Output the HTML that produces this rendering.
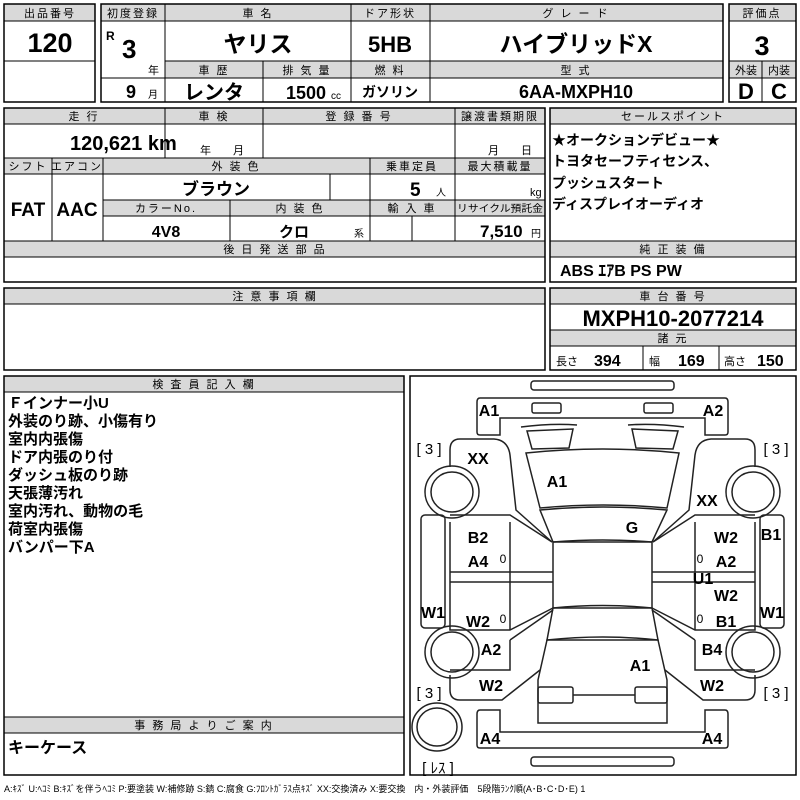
<!DOCTYPE html>
<html><head><meta charset="utf-8"><style>
html,body{margin:0;padding:0;background:#fff}
svg{display:block}
text{font-family:"Liberation Sans","Noto Sans CJK JP",sans-serif;fill:#000}
.h{font-size:11px;text-anchor:middle;letter-spacing:2px}
.b{font-weight:bold}
.c{text-anchor:middle}
.g{fill:#d9d9d9;stroke:#000;stroke-width:1}
.r{fill:none;stroke:#000;stroke-width:1.5}
.l{stroke:#000;stroke-width:1}
.d{fill:none;stroke:#222;stroke-width:1.5}
.lab{font-size:16px;font-weight:bold;text-anchor:middle}
</style></head><body>
<svg width="800" height="800" viewBox="0 0 800 800" xmlns="http://www.w3.org/2000/svg">
<rect class="g" x="4" y="4" width="91" height="17"/>
<text class="h" x="50" y="17">出品番号</text>
<rect class="r" x="4" y="4" width="91" height="98"/>
<line class="l" x1="4" y1="61" x2="95" y2="61"/>
<text class="b c" x="50" y="52" font-size="27">120</text>
<rect class="g" x="101" y="4" width="622" height="17"/>
<rect class="g" x="165" y="61" width="558" height="17"/>
<rect class="r" x="101" y="4" width="622" height="98"/>
<line class="l" x1="165" y1="4" x2="165" y2="102"/>
<line class="l" x1="351" y1="4" x2="351" y2="102"/>
<line class="l" x1="430" y1="4" x2="430" y2="102"/>
<line class="l" x1="263" y1="61" x2="263" y2="102"/>
<line class="l" x1="101" y1="78" x2="165" y2="78"/>
<text class="h" x="133" y="17" letter-spacing="0">初度登録</text>
<text class="h" x="258" y="17">車 名</text>
<text class="h" x="390" y="17" letter-spacing="0">ドア形状</text>
<text class="h" x="576" y="17">グ レ ー ド</text>
<text class="h" x="214" y="74">車 歴</text>
<text class="h" x="307" y="74">排 気 量</text>
<text class="h" x="390" y="74">燃 料</text>
<text class="h" x="576" y="74">型 式</text>
<text class="b" x="106" y="40" font-size="12">R</text>
<text class="b" x="122" y="58" font-size="26">3</text>
<text x="148" y="74" font-size="11">年</text>
<text class="b" x="126" y="98" font-size="18">9</text>
<text x="148" y="98" font-size="10">月</text>
<text class="b c" x="258" y="52" font-size="23">ヤリス</text>
<text class="b c" x="390" y="52" font-size="22">5HB</text>
<text class="b c" x="576" y="52" font-size="23">ハイブリッドX</text>
<text class="b c" x="214" y="99" font-size="20">レンタ</text>
<text class="b" x="286" y="99" font-size="18">1500</text>
<text x="331" y="99" font-size="10">cc</text>
<text class="b c" x="390" y="97" font-size="14">ガソリン</text>
<text class="b c" x="576" y="98" font-size="18">6AA-MXPH10</text>
<rect class="g" x="729" y="4" width="67" height="17"/>
<rect class="g" x="729" y="61" width="67" height="17"/>
<rect class="r" x="729" y="4" width="67" height="98"/>
<line class="l" x1="762" y1="61" x2="762" y2="102"/>
<text class="h" x="762" y="17" letter-spacing="0">評価点</text>
<text class="b c" x="762" y="55" font-size="27">3</text>
<text class="c" x="746" y="74" font-size="11">外装</text>
<text class="c" x="779" y="74" font-size="11">内装</text>
<text class="b c" x="746" y="99" font-size="22">D</text>
<text class="b c" x="779" y="99" font-size="22">C</text>
<rect class="g" x="4" y="108" width="541" height="16"/>
<rect class="g" x="4" y="158" width="541" height="16"/>
<rect class="g" x="103" y="200" width="442" height="16"/>
<rect class="g" x="4" y="241" width="541" height="16"/>
<rect class="r" x="4" y="108" width="541" height="174"/>
<line class="l" x1="165" y1="108" x2="165" y2="158"/>
<line class="l" x1="263" y1="108" x2="263" y2="158"/>
<line class="l" x1="455" y1="108" x2="455" y2="241"/>
<line class="l" x1="52" y1="158" x2="52" y2="241"/>
<line class="l" x1="103" y1="158" x2="103" y2="241"/>
<line class="l" x1="370" y1="158" x2="370" y2="241"/>
<line class="l" x1="330" y1="174" x2="330" y2="200"/>
<line class="l" x1="230" y1="200" x2="230" y2="241"/>
<line class="l" x1="412" y1="216" x2="412" y2="241"/>
<text class="h" x="84" y="120">走 行</text>
<text class="h" x="214" y="120">車 検</text>
<text class="h" x="359" y="120">登 録 番 号</text>
<text class="h" x="500" y="120" letter-spacing="0">譲渡書類期限</text>
<text class="b" x="70" y="150" font-size="20">120,621 km</text>
<text x="200" y="154" font-size="11">年　　月</text>
<text x="488" y="154" font-size="11">月　　日</text>
<text class="h" x="28" y="170" letter-spacing="0">シフト</text>
<text class="h" x="77" y="170" letter-spacing="0">エアコン</text>
<text class="h" x="236" y="170">外 装 色</text>
<text class="h" x="412" y="170" letter-spacing="0">乗車定員</text>
<text class="h" x="500" y="170" letter-spacing="0">最大積載量</text>
<text class="b c" x="28" y="216" font-size="19">FAT</text>
<text class="b c" x="77" y="216" font-size="19">AAC</text>
<text class="b c" x="216" y="195" font-size="17">ブラウン</text>
<text class="b" x="410" y="196" font-size="19">5</text>
<text x="436" y="196" font-size="10">人</text>
<text x="530" y="196" font-size="11">kg</text>
<text class="h" x="166" y="212" letter-spacing="3">カラーNo.</text>
<text class="h" x="300" y="212">内 装 色</text>
<text class="h" x="412" y="212">輸 入 車</text>
<text x="457" y="212" font-size="10" textLength="86" lengthAdjust="spacingAndGlyphs">リサイクル預託金</text>
<text class="b c" x="166" y="237" font-size="16">4V8</text>
<text class="b c" x="294" y="237" font-size="15">クロ</text>
<text x="354" y="237" font-size="10">系</text>
<text class="b" x="480" y="237" font-size="17">7,510</text>
<text x="531" y="237" font-size="10">円</text>
<text class="h" x="275" y="253">後 日 発 送 部 品</text>
<rect class="g" x="550" y="108" width="246" height="16"/>
<rect class="g" x="550" y="241" width="246" height="16"/>
<rect class="r" x="550" y="108" width="246" height="174"/>
<text class="h" x="673" y="120" letter-spacing="5">セールスポイント</text>
<text class="b" x="552" y="145" font-size="14">★オークションデビュー★</text>
<text class="b" x="552" y="166" font-size="14">トヨタセーフティセンス、</text>
<text class="b" x="552" y="188" font-size="14">プッシュスタート</text>
<text class="b" x="552" y="209" font-size="14">ディスプレイオーディオ</text>
<text class="h" x="673" y="253">純 正 装 備</text>
<text class="b" x="560" y="276" font-size="16">ABS ｴｱB PS PW</text>
<rect class="g" x="4" y="288" width="541" height="16"/>
<rect class="r" x="4" y="288" width="541" height="82"/>
<text class="h" x="275" y="300">注 意 事 項 欄</text>
<rect class="g" x="550" y="288" width="246" height="16"/>
<rect class="g" x="550" y="330" width="246" height="16"/>
<rect class="r" x="550" y="288" width="246" height="82"/>
<line class="l" x1="643" y1="346" x2="643" y2="370"/>
<line class="l" x1="719" y1="346" x2="719" y2="370"/>
<text class="h" x="673" y="300">車 台 番 号</text>
<text class="b c" x="673" y="326" font-size="22">MXPH10-2077214</text>
<text class="h" x="673" y="342">諸 元</text>
<text x="556" y="365" font-size="11">長さ</text><text class="b" x="594" y="366" font-size="16">394</text>
<text x="649" y="365" font-size="11">幅</text><text class="b" x="678" y="366" font-size="16">169</text>
<text x="724" y="365" font-size="11">高さ</text><text class="b" x="757" y="366" font-size="16">150</text>
<rect class="g" x="4" y="376" width="400" height="16"/>
<rect class="g" x="4" y="717" width="400" height="16"/>
<rect class="r" x="4" y="376" width="400" height="399"/>
<line class="l" x1="4" y1="717" x2="404" y2="717"/>
<text class="h" x="204" y="388">検 査 員 記 入 欄</text>
<g class="b" font-size="15">
<text x="8" y="408">Ｆインナー小U</text>
<text x="8" y="426">外装のり跡、小傷有り</text>
<text x="8" y="444">室内内張傷</text>
<text x="8" y="462">ドア内張のり付</text>
<text x="8" y="480">ダッシュ板のり跡</text>
<text x="8" y="498">天張薄汚れ</text>
<text x="8" y="516">室内汚れ、動物の毛</text>
<text x="8" y="534">荷室内張傷</text>
<text x="8" y="552">バンパー下A</text>
</g>
<text class="h" x="204" y="729">事 務 局 よ り ご 案 内</text>
<text class="b" x="8" y="753" font-size="16">キーケース</text>
<rect class="r" x="410" y="376" width="386" height="399"/>
<g class="d">
<rect x="531" y="381" width="143" height="9" rx="3"/>
<path d="M480,398 H725 Q728,398 728,402 V432 Q728,435 725,435 H705 V418 H500 V435 H480 Q477,435 477,432 V402 Q477,398 480,398Z"/>
<rect x="532" y="403" width="29" height="10" rx="2"/>
<rect x="644" y="403" width="29" height="10" rx="2"/>
<path d="M521,427 Q552,423 577,425"/><path d="M628,425 Q653,423 684,427"/>
<path d="M527,431 L573,429 L569,448 L532,449Z"/>
<path d="M632,429 L678,431 L673,449 L636,448Z"/>
<path d="M526,453 Q603,445 679,453 L667,508 Q603,502 540,508Z"/>
<path d="M540,510 Q603,504 667,510 L652,542 Q603,538 553,542Z"/>
<path d="M553,542 L652,542 L652,608 L553,608Z"/>
<path d="M553,608 Q603,603 652,608 L658,640 Q603,634 547,640Z"/>
<path d="M547,640 L658,640 L667,680 L667,723 L538,723 L538,680Z"/>
<rect x="538" y="687" width="35" height="16" rx="2"/>
<rect x="635" y="687" width="32" height="16" rx="2"/>
<line x1="573" y1="695" x2="635" y2="695"/>
<path d="M480,710 H500 V732 H705 V710 H725 Q728,710 728,714 V745 Q728,748 725,748 H480 Q477,748 477,745 V714 Q477,710 480,710Z"/>
<rect x="531" y="757" width="143" height="9" rx="3"/>
<path d="M450,467 V450 Q450,439 460,439 H494 Q508,440 510,455 L516,510 L552,542"/>
<path d="M450,515 H510 L552,542"/>
<path d="M450,522 V630 H510 L553,608"/>
<line x1="450" y1="572" x2="553" y2="572"/><line x1="450" y1="582" x2="553" y2="582"/>
<line x1="510" y1="522" x2="510" y2="630"/>
<rect x="421" y="515" width="24" height="113" rx="4"/>
<path d="M510,640 L553,610"/>
<path d="M510,640 V670 H450"/>
<path d="M450,675 V690 Q450,700 460,700 H502 L540,670"/>
<path d="M755,467 V450 Q755,439 745,439 H711 Q697,440 695,455 L689,510 L653,542"/>
<path d="M755,515 H695 L653,542"/>
<path d="M755,522 V630 H695 L652,608"/>
<line x1="652" y1="572" x2="755" y2="572"/><line x1="652" y1="582" x2="755" y2="582"/>
<line x1="695" y1="522" x2="695" y2="630"/>
<rect x="760" y="515" width="24" height="113" rx="4"/>
<path d="M695,640 L652,610"/>
<path d="M695,640 V670 H755"/>
<path d="M755,675 V690 Q755,700 745,700 H703 L665,670"/>
<ellipse cx="452" cy="492" rx="27" ry="26"/><ellipse cx="452" cy="492" rx="21" ry="20"/>
<ellipse cx="753" cy="492" rx="27" ry="26"/><ellipse cx="753" cy="492" rx="21" ry="20"/>
<ellipse cx="452" cy="652" rx="27" ry="26"/><ellipse cx="452" cy="652" rx="21" ry="20"/>
<ellipse cx="753" cy="652" rx="27" ry="26"/><ellipse cx="753" cy="652" rx="21" ry="20"/>
<ellipse cx="437" cy="727" rx="25" ry="24"/><ellipse cx="437" cy="727" rx="20" ry="19"/>
</g>
<g class="lab">
<text x="489" y="416">A1</text><text x="713" y="416">A2</text>
<text x="478" y="464">XX</text><text x="557" y="487">A1</text>
<text x="707" y="506">XX</text><text x="632" y="533">G</text>
<text x="478" y="543">B2</text><text x="478" y="567">A4</text>
<text x="726" y="543">W2</text><text x="771" y="540">B1</text>
<text x="726" y="567">A2</text><text x="703" y="584">U1</text>
<text x="726" y="601">W2</text>
<text x="433" y="618">W1</text><text x="478" y="627">W2</text>
<text x="726" y="627">B1</text><text x="772" y="618">W1</text>
<text x="491" y="655">A2</text><text x="712" y="655">B4</text>
<text x="640" y="671">A1</text>
<text x="491" y="691">W2</text><text x="712" y="691">W2</text>
<text x="490" y="744">A4</text><text x="712" y="744">A4</text>
</g>
<g font-size="12" text-anchor="middle">
<text x="503" y="563">0</text><text x="503" y="623">0</text>
<text x="700" y="563">0</text><text x="700" y="623">0</text>
</g>
<g font-size="15" text-anchor="middle">
<text x="429" y="454">[ 3 ]</text><text x="776" y="454">[ 3 ]</text>
<text x="429" y="698">[ 3 ]</text><text x="776" y="698">[ 3 ]</text>
<text x="438" y="773">[ ﾚｽ ]</text>
</g>
<text x="4" y="792" font-size="9">A:ｷｽﾞ U:ﾍｺﾐ B:ｷｽﾞを伴うﾍｺﾐ P:要塗装 W:補修跡 S:錆 C:腐食 G:ﾌﾛﾝﾄｶﾞﾗｽ点ｷｽﾞ XX:交換済み X:要交換　内・外装評価　5段階ﾗﾝｸ順(A･B･C･D･E) 1</text>
</svg>
</body></html>
